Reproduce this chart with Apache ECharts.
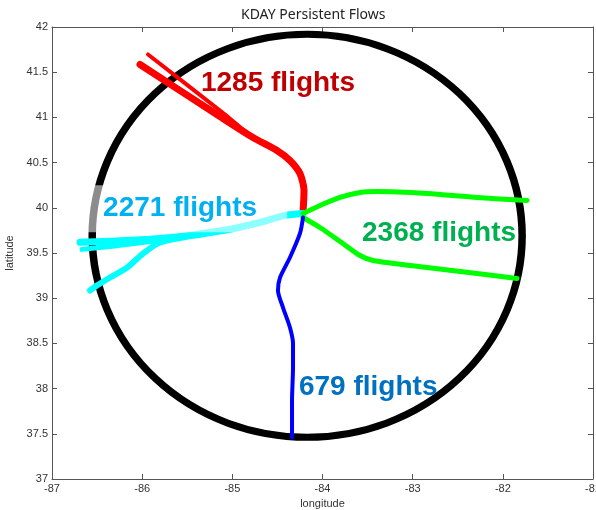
<!DOCTYPE html>
<html>
<head>
<meta charset="utf-8">
<script src="https://cdn.jsdelivr.net/npm/echarts@6/dist/echarts.min.js"></script>
<style>
  html, body { margin: 0; padding: 0; background: #fff; }
  #chart { width: 596px; height: 510px; }
</style>
</head>
<body>
<div id="chart"></div>
<script>
// axis ticks
const lonTicks = [-87, -86, -85, -84, -83, -82, -81];
const latTicks = [37, 37.5, 38, 38.5, 39, 39.5, 40, 40.5, 41, 41.5, 42];

// airport ring: centre lon, centre lat, radius lon, radius lat
const ring = [-84.17, 39.69, 2.384, 2.229];

// flow tracks [lon, lat]
const redA = [[-84.216, 39.948], [-84.205, 40.191], [-84.25, 40.379], [-84.361, 40.523], [-84.505, 40.634], [-84.771, 40.778], [-85.137, 41.01], [-86.024, 41.585]];
const redB = [[-84.216, 39.948], [-84.205, 40.191], [-84.25, 40.379], [-84.361, 40.523], [-84.505, 40.634], [-84.771, 40.778], [-85.081, 41.032], [-85.935, 41.696]];
const cyanA = [[-84.216, 39.937], [-84.416, 39.916], [-84.693, 39.839], [-85.026, 39.762], [-85.47, 39.695], [-85.913, 39.651], [-86.357, 39.629], [-86.689, 39.618]];
const cyanB = [[-84.216, 39.937], [-84.416, 39.916], [-84.693, 39.839], [-85.026, 39.762], [-85.47, 39.69], [-85.913, 39.627], [-86.357, 39.572], [-86.667, 39.54]];
const cyanC = [[-85.026, 39.762], [-85.359, 39.705], [-85.802, 39.616], [-85.991, 39.494], [-86.168, 39.339], [-86.357, 39.229], [-86.501, 39.14], [-86.579, 39.085]];
const greenA = [[-84.216, 39.937], [-84.028, 40.025], [-83.806, 40.114], [-83.584, 40.169], [-83.396, 40.18], [-82.841, 40.158], [-82.287, 40.114], [-81.732, 40.081]];
const greenB = [[-84.216, 39.893], [-84.028, 39.782], [-83.773, 39.605], [-83.584, 39.472], [-83.44, 39.417], [-82.841, 39.339], [-82.287, 39.273], [-81.843, 39.218]];
const blue = [[-84.216, 39.893], [-84.25, 39.716], [-84.361, 39.45], [-84.471, 39.229], [-84.494, 39.085], [-84.438, 38.897], [-84.361, 38.676], [-84.327, 38.499], [-84.327, 38.234], [-84.338, 37.869], [-84.338, 37.459]];

// flow labels
const labelText = ['1285 flights', '2271 flights', '2368 flights', '679 flights'];
const labelLon = [-85.348, -86.60, -83.562, -84.261];
const labelLat = [41.38, 39.99, 39.716, 38.012];

const labelColors = ['#c00000', '#00b0f0', '#00b050', '#0070c0'];

const chart = echarts.init(document.getElementById('chart'));

const tickFont = { color: '#333', fontSize: 11, fontFamily: 'Liberation Sans Narrow, Liberation Sans, sans-serif' };

function track(data, color, width) {
  return {
    type: 'line',
    data: data,
    showSymbol: false,
    smooth: 0.25,
    z: 3,
    lineStyle: { color: color, width: width, cap: 'round', join: 'round' },
    silent: true
  };
}

const labelData = labelText.map((t, i) => {
  const item = {
    value: [labelLon[i], labelLat[i], t],
    label: { color: labelColors[i] }
  };
  if (i === 1) {
    // semi transparent box behind the west label
    item.label.backgroundColor = 'rgba(255,255,255,0.55)';
    item.label.padding = [10, 30, 9, 15];
  }
  return item;
});

const option = {
  animation: false,
  title: {
    text: 'KDAY Persistent Flows',
    left: 236,
    top: 3,
    textStyle: { fontSize: 14, fontWeight: 'normal', color: '#222', fontFamily: 'Noto Sans, sans-serif' }
  },
  grid: { left: 52, right: 3, top: 27, bottom: 31, outerBoundsMode: 'none', containLabel: false },
  xAxis: [
    {
      type: 'value', min: lonTicks[0], max: lonTicks[lonTicks.length - 1], interval: 1,
      name: 'longitude', nameLocation: 'middle', nameGap: 18,
      nameTextStyle: tickFont,
      axisLine: { show: true, lineStyle: { color: '#555' } },
      axisTick: { inside: true, length: 5, lineStyle: { color: '#555' } },
      axisLabel: Object.assign({ margin: 4 }, tickFont),
      splitLine: { show: false }
    },
    {
      type: 'value', position: 'top', min: lonTicks[0], max: lonTicks[lonTicks.length - 1], interval: 1,
      axisLine: { show: true, lineStyle: { color: '#555' } },
      axisTick: { inside: true, length: 5, lineStyle: { color: '#555' } },
      axisLabel: { show: false },
      splitLine: { show: false }
    }
  ],
  yAxis: [
    {
      type: 'value', min: latTicks[0], max: latTicks[latTicks.length - 1], interval: 0.5,
      name: 'latitude', nameLocation: 'middle', nameGap: 35, nameRotate: 90,
      nameTextStyle: tickFont,
      axisLine: { show: true, lineStyle: { color: '#555' } },
      axisTick: { inside: true, length: 5, lineStyle: { color: '#555' } },
      axisLabel: Object.assign({ margin: 4 }, tickFont),
      splitLine: { show: false }
    },
    {
      type: 'value', position: 'right', min: latTicks[0], max: latTicks[latTicks.length - 1], interval: 0.5,
      axisLine: { show: true, lineStyle: { color: '#555' } },
      axisTick: { inside: true, length: 5, lineStyle: { color: '#555' } },
      axisLabel: { show: false },
      splitLine: { show: false }
    }
  ],
  series: [
    {
      type: 'custom',
      data: [ring],
      z: 2,
      silent: true,
      clip: false,
      renderItem: function (params, api) {
        const c = api.coord([api.value(0), api.value(1)]);
        const s = api.size([api.value(2), api.value(3)]);
        return {
          type: 'circle',
          x: c[0], y: c[1],
          scaleY: s[1] / s[0],
          shape: { cx: 0, cy: 0, r: s[0] },
          style: { fill: 'none', stroke: '#000', lineWidth: 7.5 }
        };
      }
    },
    track(redA, '#ff0000', 7),
    track(redB, '#ff0000', 4),
    track(cyanA, '#00ffff', 7),
    track(cyanB, '#00ffff', 5),
    track(cyanC, '#00ffff', 6),
    track(greenA, '#00ff00', 5),
    track(greenB, '#00ff00', 5),
    track(blue, '#0000ff', 4),
    {
      type: 'scatter',
      data: labelData,
      symbolSize: 0,
      z: 10,
      silent: true,
      itemStyle: { opacity: 1 },
      label: {
        show: true,
        position: 'right',
        distance: 0,
        opacity: 1,
        formatter: p => p.value[2],
        fontSize: 28,
        lineHeight: 28,
        fontWeight: 'bold',
        fontFamily: 'Liberation Sans, Arial, sans-serif'
      }
    }
  ]
};

chart.setOption(option);
</script>
</body>
</html>
